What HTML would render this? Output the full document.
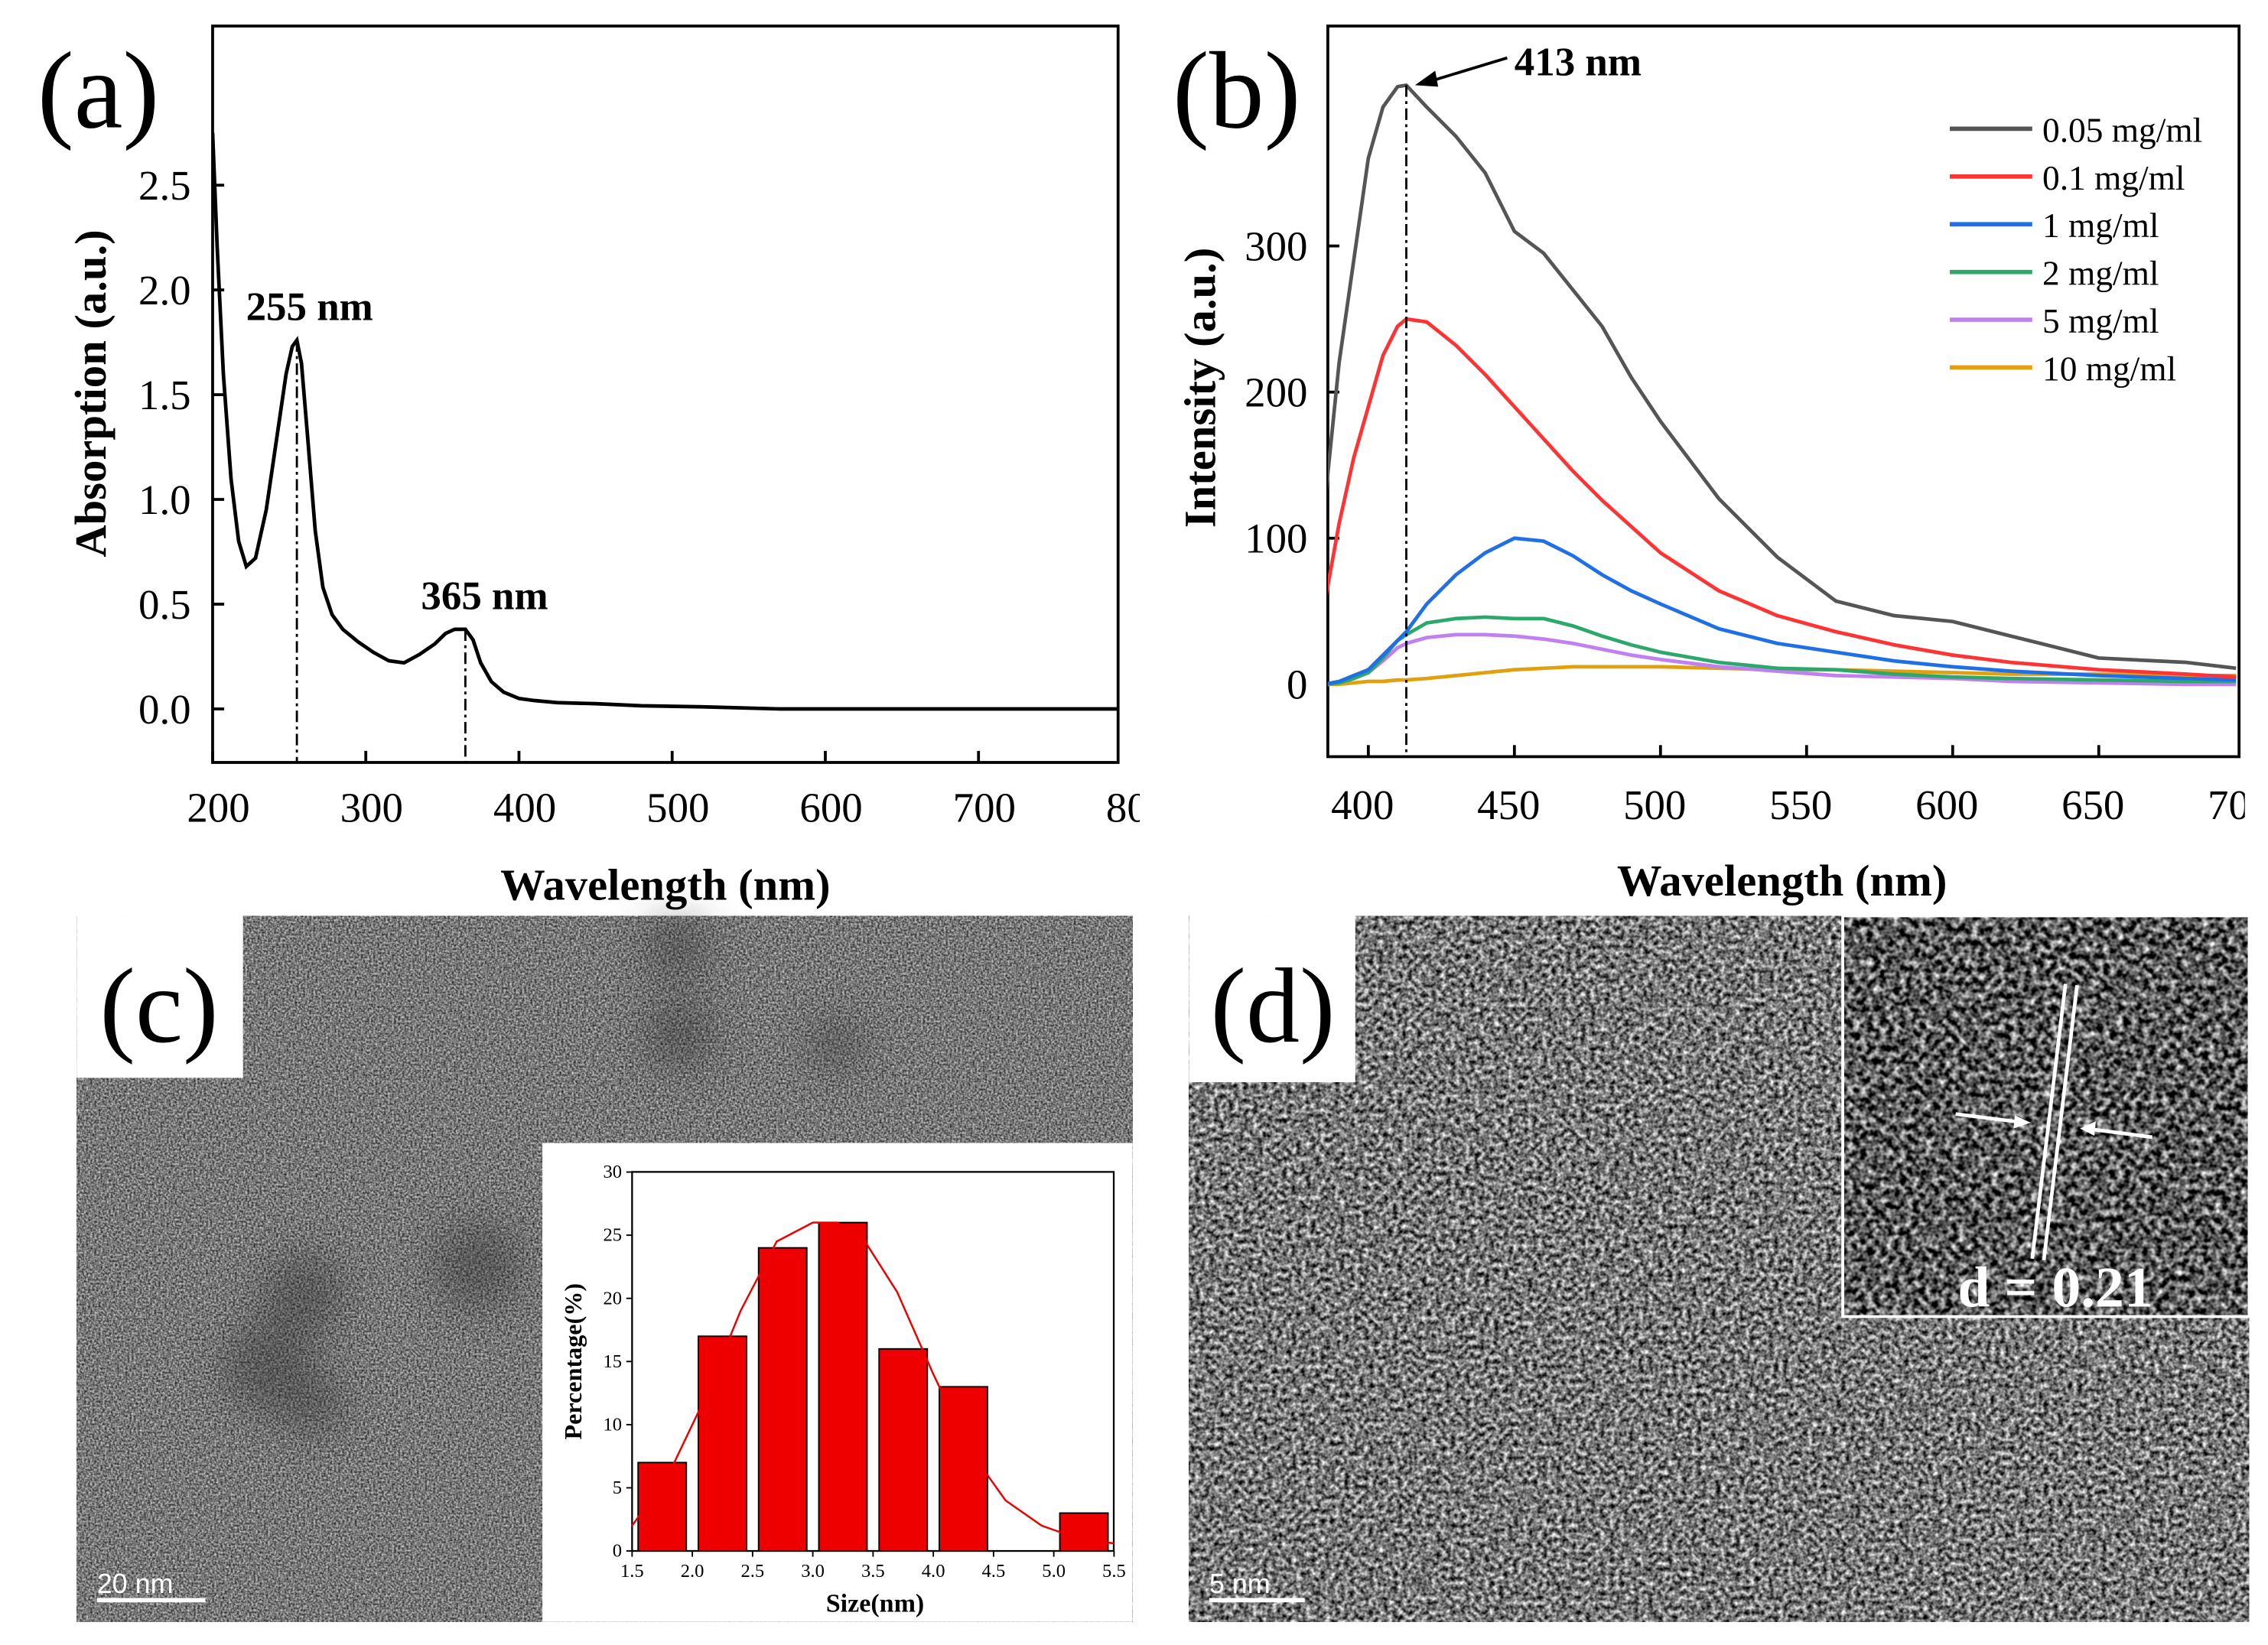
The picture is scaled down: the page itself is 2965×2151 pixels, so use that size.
<!DOCTYPE html>
<html><head><meta charset="utf-8">
<style>
html,body{margin:0;padding:0;background:#fff}
svg{display:block}
text{font-family:"Liberation Serif",serif}
</style></head>
<body>
<svg id="fig" width="2965" height="2151" viewBox="0 0 1568 1137" preserveAspectRatio="none" xmlns="http://www.w3.org/2000/svg">
<defs>
<filter id="temc" x="0" y="0" width="100%" height="100%" color-interpolation-filters="sRGB">
<feTurbulence type="fractalNoise" baseFrequency="0.7" numOctaves="2" seed="3"/>
<feColorMatrix type="matrix" values="1.0 0 0 0 -0.03  1.0 0 0 0 -0.03  1.0 0 0 0 -0.03  0 0 0 0 1"/>
</filter>
<filter id="temd" x="0" y="0" width="100%" height="100%" color-interpolation-filters="sRGB">
<feTurbulence type="fractalNoise" baseFrequency="0.3" numOctaves="2" seed="5"/>
<feColorMatrix type="matrix" values="1.5 0 0 0 -0.28  1.5 0 0 0 -0.28  1.5 0 0 0 -0.28  0 0 0 0 1"/>
</filter>
<filter id="tem2" x="0" y="0" width="100%" height="100%" color-interpolation-filters="sRGB">
<feTurbulence type="fractalNoise" baseFrequency="0.22" numOctaves="2" seed="7"/>
<feColorMatrix type="matrix" values="1.8 0 0 0 -0.55  1.8 0 0 0 -0.55  1.8 0 0 0 -0.55  0 0 0 0 1"/>
</filter>
<filter id="blur"><feGaussianBlur stdDeviation="14"/></filter>
<clipPath id="clipA"><rect x="0" y="0" width="788" height="640"/></clipPath>
<clipPath id="clipAin"><rect x="147" y="18" width="626" height="509"/></clipPath>
<clipPath id="clipBin"><rect x="918" y="18" width="630" height="505"/></clipPath>
<clipPath id="clipB"><rect x="800" y="0" width="752" height="640"/></clipPath>
</defs>
<g id="pa" clip-path="url(#clipA)"></g>
<g id="pb" clip-path="url(#clipB)"></g>
<g id="pc">
<rect x="53" y="633" width="730" height="488" fill="#7c7c7c" filter="url(#temc)"/>
<g filter="url(#blur)" fill="#2a2a2a" opacity="0.4">
<circle cx="468" cy="655" r="22"/><circle cx="470" cy="715" r="24"/><circle cx="578" cy="722" r="18"/>
<circle cx="330" cy="875" r="30"/><circle cx="210" cy="895" r="28"/><circle cx="185" cy="945" r="30"/><circle cx="215" cy="970" r="22"/>
</g>
<rect x="53" y="633" width="115" height="112" fill="#fff"/>
<text x="110" y="720" font-size="74" text-anchor="middle">(c)</text>
<line x1="67" y1="1106" x2="142" y2="1106" stroke="#fff" stroke-width="3"/>
<text x="67" y="1101" font-size="19" fill="#fff" style="font-family:'Liberation Sans',sans-serif">20 nm</text>
<g id="hist"></g>
</g>
<g id="pd">
<rect x="822" y="633" width="733" height="488" fill="#808080" filter="url(#temd)"/>
<rect x="822" y="633" width="115" height="115" fill="#fff"/>
<text x="880" y="720" font-size="74" text-anchor="middle">(d)</text>
<rect x="1274" y="633" width="281" height="277" fill="#555" filter="url(#tem2)"/>
<rect x="1274" y="633" width="281" height="277" fill="none" stroke="#fff" stroke-width="2"/>
<line x1="1405" y1="870" x2="1428" y2="680" stroke="#fff" stroke-width="2.5"/>
<line x1="1413" y1="871" x2="1436" y2="681" stroke="#fff" stroke-width="2.5"/>
<line x1="1352" y1="770" x2="1400" y2="776" stroke="#fff" stroke-width="2.5"/>
<polygon points="1404,776 1393,771 1392,780" fill="#fff"/>
<line x1="1488" y1="786" x2="1442" y2="780" stroke="#fff" stroke-width="2.5"/>
<polygon points="1438,780 1449,775 1448,785" fill="#fff"/>
<text x="1421" y="903" font-size="40" font-weight="bold" fill="#fff" text-anchor="middle">d = 0.21</text>
<line x1="836" y1="1106" x2="902" y2="1106" stroke="#fff" stroke-width="3"/>
<text x="836" y="1101" font-size="19" fill="#fff" style="font-family:'Liberation Sans',sans-serif">5 nm</text>
</g>
</svg>
<script>
// ---- Panel (a) data ----
const absWl = [200,203,207,212,217,222,228,235,242,248,252,255,258,262,267,272,278,285,295,305,315,325,335,345,352,358,365,370,375,382,390,400,410,425,450,480,520,570,650,800];
const absVal = [2.75,2.2,1.6,1.1,0.8,0.68,0.72,0.95,1.3,1.6,1.73,1.76,1.65,1.3,0.85,0.58,0.45,0.38,0.32,0.27,0.23,0.22,0.26,0.31,0.36,0.38,0.38,0.33,0.22,0.13,0.08,0.05,0.04,0.03,0.025,0.015,0.01,0.0,0.0,0.0];
const absXTicks = [200,300,400,500,600,700,800];
const absYTicks = [0.0,0.5,1.0,1.5,2.0,2.5];
// ---- Panel (b) data ----
const flWl = [385,390,395,400,405,410,413,420,430,440,450,460,470,480,490,500,520,540,560,580,600,620,650,680,697];
const flSeries = {
 s005:[122,220,290,360,395,409,410,395,375,350,310,295,270,245,210,180,127,87,57,47,43,33,18,15,11],
 s01:[55,110,155,190,225,245,250,248,232,212,190,168,146,126,108,90,64,47,36,27,20,15,10,7,5],
 s1:[0,2,6,10,20,30,36,55,75,90,100,98,88,75,64,55,38,28,22,16,12,9,6,4,3],
 s2:[0,1,4,8,18,30,34,42,45,46,45,45,40,33,27,22,15,11,10,7,5,4,3,2,2],
 s5:[0,1,4,8,16,25,28,32,34,34,33,31,28,24,20,17,12,9,6,5,4,2,1,0,0],
 s10:[0,0,1,2,2,3,3,4,6,8,10,11,12,12,12,12,11,10,10,9,8,7,7,6,6]
};
const flNames = ["0.05 mg/ml","0.1 mg/ml","1 mg/ml","2 mg/ml","5 mg/ml","10 mg/ml"];
const flKeys = ["s005","s01","s1","s2","s5","s10"];
const flColors = ["#555555","#ff3333","#1f6fe6","#2ca86a","#c080f0","#e0a010"];
const flXTicks = [400,450,500,550,600,650,700];
const flYTicks = [0,100,200,300];
// ---- Histogram data ----
const histCenters = [1.75,2.25,2.75,3.25,3.75,4.25,5.25];
const histValues = [7,17,24,26,16,13,3];
const fitX = [1.5,1.8,2.1,2.4,2.7,3.0,3.2,3.4,3.7,4.0,4.3,4.6,4.9,5.2,5.5];
const fitY = [2,6,12,19,24.5,26,26,25,20.5,14,8,4,2,1,0.6];
const histXTicks = [1.5,2.0,2.5,3.0,3.5,4.0,4.5,5.0,5.5];
const histYTicks = [0,5,10,15,20,25,30];

const NS="http://www.w3.org/2000/svg";
function mk(parent,tag,attrs,txt){const e=document.createElementNS(NS,tag);for(const k in attrs)e.setAttribute(k,attrs[k]);if(txt!==undefined)e.textContent=txt;parent.appendChild(e);return e;}

// Panel A
(function(){
 const g=document.getElementById('pa');
 const X=v=>147+(v-200)*1.059, Y=v=>490-v*144.8;
 const L=147,R=773,T=18,B=527;
 const ax=mk(g,'rect',{x:L,y:T,width:R-L,height:B-T,fill:'none',stroke:'#000','stroke-width':2});
 
 
 absXTicks.forEach(t=>{const x=X(t);if(x<=R){mk(g,'line',{x1:x,y1:B,x2:x,y2:B-8,stroke:'#000','stroke-width':2});}
  const tx=mk(g,'text',{x:x+4,y:568,'font-size':29,'text-anchor':'middle'},String(t));
  
  });
 absYTicks.forEach(t=>{const y=Y(t);mk(g,'line',{x1:L,y1:y,x2:L+8,y2:y,stroke:'#000','stroke-width':2});
  const tx=mk(g,'text',{x:132,y:y+10,'font-size':29,'text-anchor':'end'},t.toFixed(1));
  
  });
 const p=mk(g,'polyline',{points:absWl.map((w,i)=>X(w)+','+Y(absVal[i])).join(' '),fill:'none',stroke:'#000','stroke-width':2.5,'clip-path':'url(#clipAin)'});
 
 
 [[255,1.76,'255 nm',214],[365,0.38,'365 nm',335]].forEach(([w,v,l,lx])=>{
  mk(g,'line',{x1:X(w),y1:Y(v),x2:X(w),y2:B,stroke:'#000','stroke-width':1.5,'stroke-dasharray':'8,3,2,3'});
  const a=mk(g,'text',{x:lx,y:Y(v)-14,'font-size':28,'font-weight':'bold','text-anchor':'middle'},l);
  
  });
 const xt=mk(g,'text',{x:460,y:622,'font-size':31,'font-weight':'bold','text-anchor':'middle'},'Wavelength (nm)');
 
 
 const yt=mk(g,'text',{x:0,y:0,'font-size':31,'font-weight':'bold','text-anchor':'middle',transform:'translate(73,272) rotate(-90)'},'Absorption (a.u.)');
 
 
 const lb=mk(g,'text',{x:68,y:88,'font-size':76,'text-anchor':'middle'},'(a)');
 
 
})();

// Panel B
(function(){
 const g=document.getElementById('pb');
 const X=v=>946+(v-400)*2.02, Y=v=>473-v*1.01;
 const L=918,R=1548,T=18,B=523;
 const ax=mk(g,'rect',{x:L,y:T,width:R-L,height:B-T,fill:'none',stroke:'#000','stroke-width':2});
 
 
 flXTicks.forEach(t=>{const x=X(t);if(x<=R)mk(g,'line',{x1:x,y1:B,x2:x,y2:B-8,stroke:'#000','stroke-width':2});
  const tx=mk(g,'text',{x:x-4,y:566,'font-size':29,'text-anchor':'middle'},String(t));
  
  });
 flYTicks.forEach(t=>{const y=Y(t);mk(g,'line',{x1:L,y1:y,x2:L+8,y2:y,stroke:'#000','stroke-width':2});
  const tx=mk(g,'text',{x:904,y:y+10,'font-size':29,'text-anchor':'end'},String(t));
  
  });
 for(let k=flKeys.length-1;k>=0;k--){
  const vals=flSeries[flKeys[k]];
  const p=mk(g,'polyline',{points:flWl.map((w,i)=>X(w)+','+Y(vals[i])).join(' '),fill:'none',stroke:flColors[k],'stroke-width':2.5,'stroke-linejoin':'round','clip-path':'url(#clipBin)'});
  
  
 }
 const px=X(413), py=Y(flSeries.s005[6]);
 mk(g,'line',{x1:px,y1:py,x2:px,y2:B,stroke:'#000','stroke-width':1.5,'stroke-dasharray':'8,3,2,3'});
 mk(g,'line',{x1:1042,y1:40,x2:px+14,y2:py-2,stroke:'#000','stroke-width':2});
 mk(g,'polygon',{points:`${px+6},${py} ${px+20},${py-10} ${px+22},${py+1}`,fill:'#000'});
 const an=mk(g,'text',{x:1047,y:52,'font-size':28,'font-weight':'bold'},'413 nm');
 
 
 flNames.forEach((n,i)=>{const y=89+i*33;
  mk(g,'line',{x1:1348,y1:y,x2:1405,y2:y,stroke:flColors[i],'stroke-width':3});
  const t=mk(g,'text',{x:1412,y:y+9,'font-size':24},n);
  
  });
 const xt=mk(g,'text',{x:1232,y:619,'font-size':31,'font-weight':'bold','text-anchor':'middle'},'Wavelength (nm)');
 
 
 const yt=mk(g,'text',{x:0,y:0,'font-size':31,'font-weight':'bold','text-anchor':'middle',transform:'translate(840,268) rotate(-90)'},'Intensity (a.u.)');
 
 
 const lb=mk(g,'text',{x:855,y:88,'font-size':76,'text-anchor':'middle'},'(b)');
 
 
})();

// Histogram
(function(){
 const g=document.getElementById('hist');
 mk(g,'rect',{x:375,y:790,width:408,height:331,fill:'#fff'});
 const X=v=>437+(v-1.5)*83.3, Y=v=>1072-v*8.73;
 const L=437,R=770,T=810,B=1072;
 mk(g,'rect',{x:L,y:T,width:R-L,height:B-T,fill:'none',stroke:'#000','stroke-width':1.2});
 histCenters.forEach((c,i)=>{
  const b=mk(g,'rect',{x:X(c-0.2),y:Y(histValues[i]),width:X(c+0.2)-X(c-0.2),height:B-Y(histValues[i]),fill:'#ee0000',stroke:'#000','stroke-width':1});
  
  });
 const f=mk(g,'polyline',{points:fitX.map((x,i)=>X(x)+','+Y(fitY[i])).join(' '),fill:'none',stroke:'#ee0000','stroke-width':1.3});
 
 
 histXTicks.forEach(t=>{mk(g,'line',{x1:X(t),y1:B,x2:X(t),y2:B+4,stroke:'#000'});
  const tx=mk(g,'text',{x:X(t),y:1090,'font-size':13,'text-anchor':'middle'},t.toFixed(1));
  
  });
 histYTicks.forEach(t=>{mk(g,'line',{x1:L,y1:Y(t),x2:L-4,y2:Y(t),stroke:'#000'});
  const tx=mk(g,'text',{x:L-7,y:Y(t)+4,'font-size':13,'text-anchor':'end'},String(t));
  
  });
 const xt=mk(g,'text',{x:605,y:1114,'font-size':18,'font-weight':'bold','text-anchor':'middle'},'Size(nm)');
 
 
 const yt=mk(g,'text',{x:0,y:0,'font-size':17,'font-weight':'bold','text-anchor':'middle',transform:'translate(402,941) rotate(-90)'},'Percentage(%)');
 
 
})();
</script>
</body></html>
